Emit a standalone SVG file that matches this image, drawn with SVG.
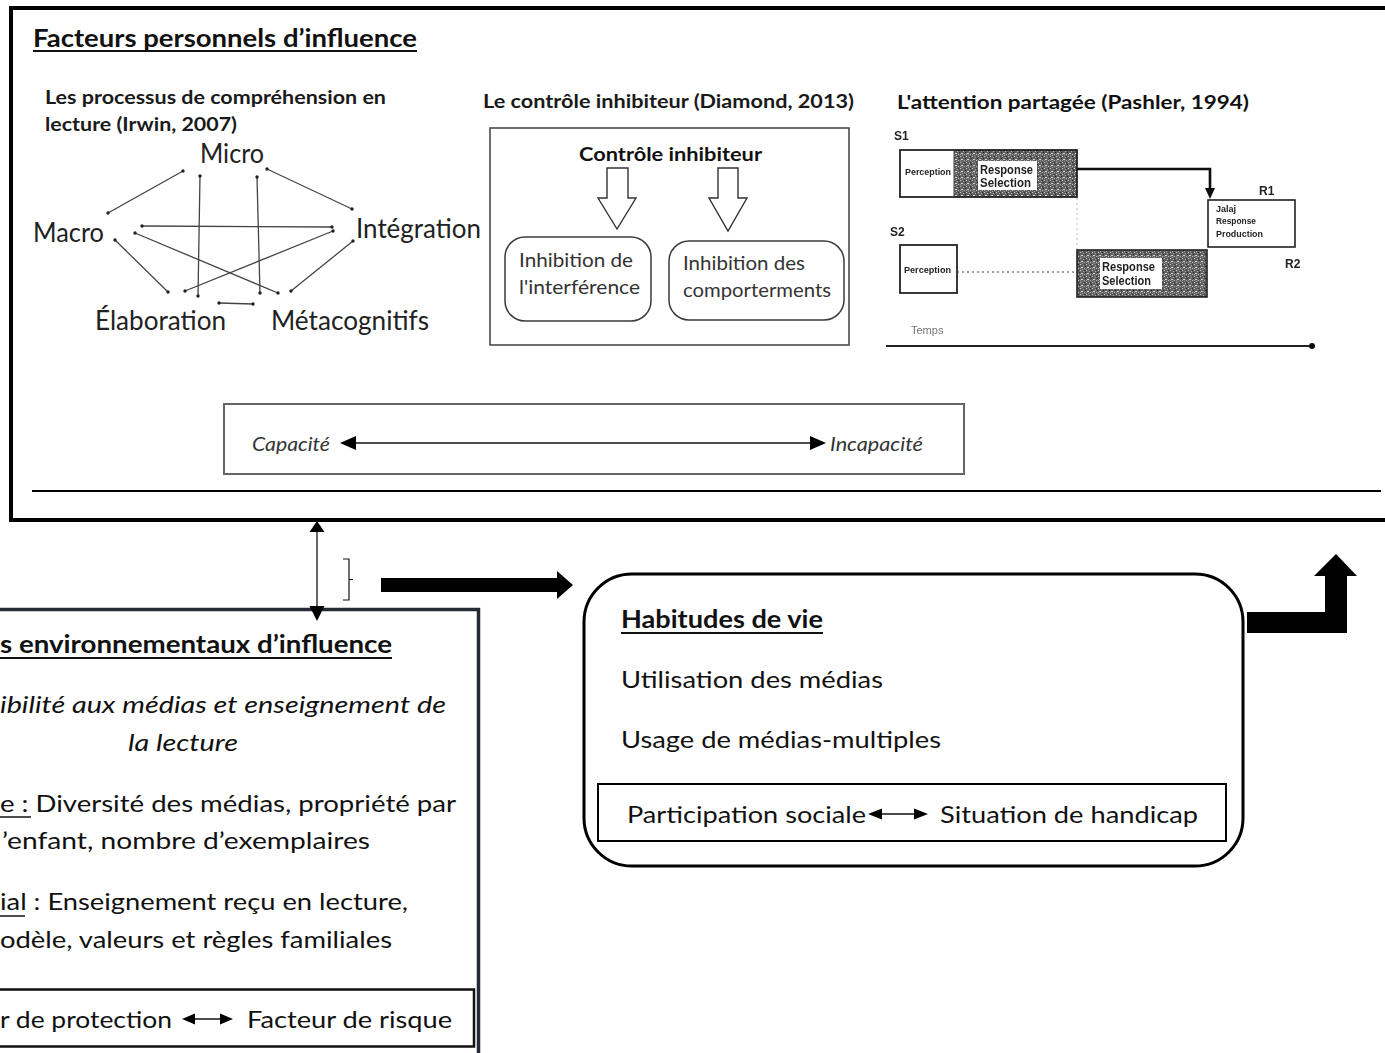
<svg xmlns="http://www.w3.org/2000/svg" width="1385" height="1053" viewBox="0 0 1385 1053">
  <defs>
    <style>
      text { font-family: Lato, "Open Sans", "Liberation Sans", sans-serif; fill: #111; }
      .b { font-weight: bold; }
      .i { font-style: italic; }
      .t24 { font-size: 24px; }
      .t26 { font-size: 26px; fill: #222; }
      .h18 { font-size: 18px; font-weight: bold; fill: #1a1a1a; }
      .inh { font-size: 20px; fill: #333; }
      .cap { font-size: 19px; font-style: italic; fill: #333; }
      .tiny { font-family: "Liberation Sans", Arial, sans-serif; font-weight: bold; fill: #222; }
      .edge { stroke: #444; stroke-width: 1.3; fill: none; marker-start: url(#dot); marker-end: url(#dot); }
      .ul { stroke: #111; stroke-width: 2; }
    </style>
    <marker id="dot" viewBox="0 0 4 4" refX="2" refY="2" markerWidth="4" markerHeight="4" markerUnits="userSpaceOnUse">
      <circle cx="2" cy="2" r="1.7" fill="#222"/>
    </marker>
    <!-- speckled fill for the response-selection stages -->
    <pattern id="grain" width="6" height="6" patternUnits="userSpaceOnUse">
      <rect width="6" height="6" fill="#5e5e5e"/>
      <rect x="0" y="0" width="1" height="1" fill="#d0d0d0"/>
      <rect x="3" y="1" width="1" height="1" fill="#b0b0b0"/>
      <rect x="1" y="3" width="2" height="1" fill="#d8d8d8"/>
      <rect x="4" y="4" width="1" height="1" fill="#bcbcbc"/>
      <rect x="5" y="2" width="1" height="1" fill="#2a2a2a"/>
      <rect x="2" y="5" width="1" height="1" fill="#a0a0a0"/>
      <rect x="4" y="0" width="1" height="1" fill="#333"/>
      <rect x="0" y="4" width="1" height="1" fill="#999"/>
    </pattern>
    <filter id="soft" x="-5%" y="-5%" width="110%" height="110%">
      <feGaussianBlur stdDeviation="0.5"/>
    </filter>
  </defs>

  <rect width="1385" height="1053" fill="#ffffff"/>

  <!-- Personal factors frame -->
  <g id="personal-factors">
    <rect x="11" y="8" width="1400" height="512" fill="none" stroke="#000" stroke-width="4"/>
    <line x1="32" y1="491" x2="1381" y2="491" stroke="#000" stroke-width="2"/>
    <text class="b" x="33" y="47" font-size="25" textLength="384" lengthAdjust="spacingAndGlyphs">Facteurs personnels d’influence</text>
    <line class="ul" x1="33" y1="51" x2="417" y2="51"/>
  </g>

  <!-- Irwin (2007) reading comprehension processes -->
  <g id="irwin">
    <text class="h18" x="45" y="104" textLength="341" lengthAdjust="spacingAndGlyphs">Les processus de compréhension en</text>
    <text class="h18" x="45" y="131" textLength="192" lengthAdjust="spacingAndGlyphs">lecture (Irwin, 2007)</text>
    <text class="t26" x="200" y="163" textLength="64" lengthAdjust="spacingAndGlyphs">Micro</text>
    <text class="t26" x="33" y="242" textLength="71" lengthAdjust="spacingAndGlyphs">Macro</text>
    <text class="t26" x="356" y="238" textLength="125" lengthAdjust="spacingAndGlyphs">Intégration</text>
    <text class="t26" x="95" y="330" textLength="131" lengthAdjust="spacingAndGlyphs">Élaboration</text>
    <text class="t26" x="271" y="330" textLength="158" lengthAdjust="spacingAndGlyphs">Métacognitifs</text>
    <g id="irwin-links">
      <line class="edge" x1="183" y1="171" x2="108" y2="213"/>
      <line class="edge" x1="200" y1="176" x2="198" y2="296"/>
      <line class="edge" x1="257" y1="177" x2="260" y2="293"/>
      <line class="edge" x1="267" y1="169" x2="352" y2="209"/>
      <line class="edge" x1="142" y1="226" x2="332" y2="227"/>
      <line class="edge" x1="135" y1="233" x2="278" y2="293"/>
      <line class="edge" x1="333" y1="231" x2="185" y2="291"/>
      <line class="edge" x1="115" y1="240" x2="168" y2="292"/>
      <line class="edge" x1="353" y1="241" x2="291" y2="291"/>
      <line class="edge" x1="219" y1="303" x2="253" y2="304"/>
    </g>
  </g>

  <!-- Diamond (2013) inhibitory control -->
  <g id="diamond">
    <text class="h18" x="483" y="108" textLength="371" lengthAdjust="spacingAndGlyphs">Le contrôle inhibiteur (Diamond, 2013)</text>
    <rect x="490" y="128" width="359" height="217" fill="none" stroke="#4a4a4a" stroke-width="1.6"/>
    <text class="b" x="579" y="161" font-size="19" textLength="183" lengthAdjust="spacingAndGlyphs">Contrôle inhibiteur</text>
    <polygon points="607,168 628,168 628,198 636,198 617,229 598,198 607,198" fill="#fff" stroke="#333" stroke-width="1.4"/>
    <polygon points="718,168 738,168 738,198 747,198 728,231 709,198 718,198" fill="#fff" stroke="#333" stroke-width="1.4"/>
    <rect x="505" y="237" width="146" height="84" rx="20" fill="none" stroke="#3a3a3a" stroke-width="1.5"/>
    <text class="inh" x="519" y="267" textLength="114" lengthAdjust="spacingAndGlyphs">Inhibition de</text>
    <text class="inh" x="519" y="294" textLength="121" lengthAdjust="spacingAndGlyphs">l'interférence</text>
    <rect x="669" y="241" width="175" height="79" rx="20" fill="none" stroke="#3a3a3a" stroke-width="1.5"/>
    <text class="inh" x="683" y="270" textLength="122" lengthAdjust="spacingAndGlyphs">Inhibition des</text>
    <text class="inh" x="683" y="297" textLength="148" lengthAdjust="spacingAndGlyphs">comporterments</text>
  </g>

  <!-- Pashler (1994) divided attention -->
  <g id="pashler">
    <text class="b" x="897" y="109" font-size="19" textLength="352" lengthAdjust="spacingAndGlyphs">L'attention partagée (Pashler, 1994)</text>
    <g filter="url(#soft)">
      <text class="tiny" x="894" y="140" font-size="12">S1</text>
      <text class="tiny" x="890" y="236" font-size="12">S2</text>
      <text class="tiny" x="1259" y="195" font-size="12">R1</text>
      <text class="tiny" x="1285" y="268" font-size="12">R2</text>

      <!-- task 1 -->
      <rect x="954" y="150" width="123" height="47" fill="url(#grain)"/>
      <rect x="900" y="150" width="177" height="47" fill="none" stroke="#222" stroke-width="1.8"/>
      <line x1="954" y1="150" x2="954" y2="197" stroke="#444" stroke-width="1"/>
      <text class="tiny" x="905" y="175" font-size="9" textLength="46" lengthAdjust="spacingAndGlyphs">Perception</text>
      <rect x="978" y="161" width="59" height="29" fill="#fff"/>
      <text class="tiny" x="980" y="174" font-size="13" textLength="53" lengthAdjust="spacingAndGlyphs">Response</text>
      <text class="tiny" x="980" y="187" font-size="13" textLength="51" lengthAdjust="spacingAndGlyphs">Selection</text>

      <path d="M1077,169 H1210 V190" fill="none" stroke="#111" stroke-width="2.6"/>
      <polygon points="1205,188 1215,188 1210,199" fill="#111"/>
      <line x1="1077" y1="198" x2="1077" y2="250" stroke="#bbb" stroke-width="1" stroke-dasharray="2 3"/>

      <rect x="1208" y="200" width="87" height="47" fill="#fff" stroke="#222" stroke-width="1.6"/>
      <text class="tiny" x="1216" y="212" font-size="9">Jalaj</text>
      <text class="tiny" x="1216" y="224" font-size="9" textLength="40" lengthAdjust="spacingAndGlyphs">Response</text>
      <text class="tiny" x="1216" y="237" font-size="9" textLength="47" lengthAdjust="spacingAndGlyphs">Production</text>

      <!-- task 2 -->
      <rect x="900" y="245" width="57" height="48" fill="#fff" stroke="#222" stroke-width="1.8"/>
      <text class="tiny" x="904" y="273" font-size="9" textLength="47" lengthAdjust="spacingAndGlyphs">Perception</text>
      <line x1="957" y1="272" x2="1077" y2="272" stroke="#444" stroke-width="1.2" stroke-dasharray="2 3"/>
      <rect x="1077" y="250" width="130" height="47" fill="url(#grain)" stroke="#222" stroke-width="1.6"/>
      <rect x="1100" y="258" width="62" height="31" fill="#fff"/>
      <text class="tiny" x="1102" y="271" font-size="13" textLength="53" lengthAdjust="spacingAndGlyphs">Response</text>
      <text class="tiny" x="1102" y="285" font-size="13" textLength="49" lengthAdjust="spacingAndGlyphs">Selection</text>

      <!-- time axis -->
      <text x="911" y="334" font-size="11" style="fill:#777; font-family:'Liberation Sans', Arial, sans-serif">Temps</text>
      <line x1="886" y1="346" x2="1312" y2="346" stroke="#222" stroke-width="2"/>
      <circle cx="1312" cy="346" r="3" fill="#111"/>
    </g>
  </g>

  <!-- Capacity scale -->
  <g id="capacite">
    <rect x="224" y="404" width="740" height="70" fill="none" stroke="#666" stroke-width="2"/>
    <text class="cap" x="252" y="451" textLength="78" lengthAdjust="spacingAndGlyphs">Capacité</text>
    <text class="cap" x="830" y="451" textLength="93" lengthAdjust="spacingAndGlyphs">Incapacité</text>
    <line x1="352" y1="443" x2="814" y2="443" stroke="#111" stroke-width="1.5"/>
    <polygon points="340,443 356,436 356,450" fill="#000"/>
    <polygon points="826,443 810,436 810,450" fill="#000"/>
  </g>

  <!-- Environmental factors frame -->
  <g id="environmental-factors">
    <path d="M-5,609.5 H478.5 V1060" fill="none" stroke="#252b33" stroke-width="3.5"/>
    <text class="b t24" x="0" y="653" textLength="392" lengthAdjust="spacingAndGlyphs">s environnementaux d’influence</text>
    <line class="ul" x1="0" y1="658" x2="392" y2="658"/>
    <text class="i t24" x="0" y="713" textLength="446" lengthAdjust="spacingAndGlyphs">ibilité aux médias et enseignement de</text>
    <text class="i t24" x="128" y="751" textLength="110" lengthAdjust="spacingAndGlyphs">la lecture</text>
    <text class="t24" x="0" y="812" textLength="456" lengthAdjust="spacingAndGlyphs">e : Diversité des médias, propriété par</text>
    <line x1="0" y1="817" x2="31" y2="817" stroke="#111" stroke-width="1.5"/>
    <text class="t24" x="2" y="849" textLength="368" lengthAdjust="spacingAndGlyphs">’enfant, nombre d’exemplaires</text>
    <text class="t24" x="0" y="910" textLength="408" lengthAdjust="spacingAndGlyphs">ial : Enseignement reçu en lecture,</text>
    <line x1="0" y1="916" x2="25" y2="916" stroke="#111" stroke-width="1.5"/>
    <text class="t24" x="0" y="948" textLength="392" lengthAdjust="spacingAndGlyphs">odèle, valeurs et règles familiales</text>
    <path d="M-5,989.5 H474 V1046.5 H-5" fill="none" stroke="#111" stroke-width="2.5"/>
    <text class="t24" x="0" y="1028" textLength="172" lengthAdjust="spacingAndGlyphs">r de protection</text>
    <text class="t24" x="247" y="1028" textLength="205" lengthAdjust="spacingAndGlyphs">Facteur de risque</text>
    <line x1="190" y1="1019" x2="226" y2="1019" stroke="#111" stroke-width="1.5"/>
    <polygon points="182,1019 195,1013.5 195,1024.5" fill="#000"/>
    <polygon points="233,1019 220,1013.5 220,1024.5" fill="#000"/>
  </g>

  <!-- Life habits -->
  <g id="habitudes">
    <rect x="584" y="574" width="659" height="292" rx="48" ry="48" fill="none" stroke="#000" stroke-width="3"/>
    <text class="b t24" x="621" y="628" textLength="202" lengthAdjust="spacingAndGlyphs">Habitudes de vie</text>
    <line class="ul" x1="621" y1="633" x2="823" y2="633"/>
    <text class="t24" x="621" y="688" textLength="262" lengthAdjust="spacingAndGlyphs">Utilisation des médias</text>
    <text class="t24" x="621" y="748" textLength="320" lengthAdjust="spacingAndGlyphs">Usage de médias-multiples</text>
    <rect x="598" y="784" width="628" height="57" fill="none" stroke="#000" stroke-width="2"/>
    <text class="t24" x="627" y="823" textLength="239" lengthAdjust="spacingAndGlyphs">Participation sociale</text>
    <text class="t24" x="940" y="823" textLength="258" lengthAdjust="spacingAndGlyphs">Situation de handicap</text>
    <line x1="878" y1="814" x2="918" y2="814" stroke="#111" stroke-width="1.5"/>
    <polygon points="868,814 882,808.5 882,819.5" fill="#000"/>
    <polygon points="928,814 914,808.5 914,819.5" fill="#000"/>
  </g>

  <!-- Connectors between the frames -->
  <g id="connectors">
    <line x1="317" y1="530" x2="317" y2="608" stroke="#333" stroke-width="1.5"/>
    <polygon points="317,521 309.5,532 324.5,532" fill="#000"/>
    <polygon points="317,621 309.5,606 324.5,606" fill="#000"/>
    <path d="M343,559 H349 V600 H343 M349,579.5 H353" fill="none" stroke="#111" stroke-width="1.2"/>
    <polygon points="381,578 557,578 557,571 573,585 557,599 557,592 381,592" fill="#000"/>
    <polygon points="1247,612 1325,612 1325,576 1314,576 1336,554 1357,576 1347,576 1347,633 1247,633" fill="#000"/>
  </g>
</svg>
